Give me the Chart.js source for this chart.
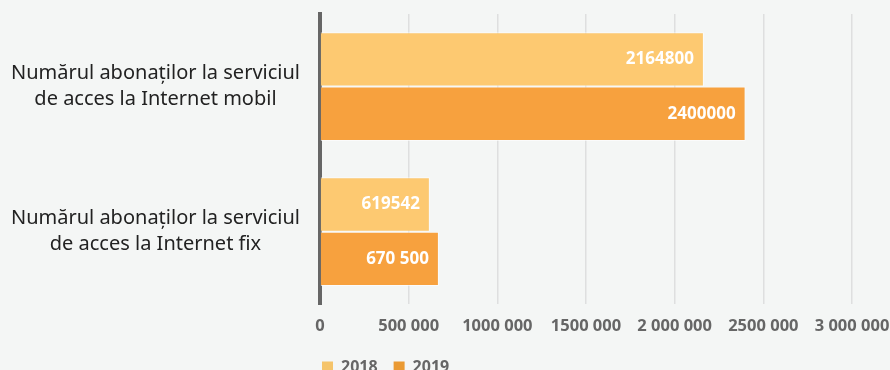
<!DOCTYPE html>
<html>
<head>
<meta charset="utf-8">
<script src="https://cdn.jsdelivr.net/npm/chart.js@4/dist/chart.umd.min.js"></script>
<style>
  html, body { margin: 0; padding: 0; background: #f4f6f5; overflow: hidden; }
  #wrap { width: 890px; height: 370px; overflow: hidden; }
</style>
</head>
<body>
<div id="wrap"><canvas id="chart" width="890" height="385"></canvas></div>
<script>
// categories (two-line labels)
const categories = [
    ['Numărul abonaților la serviciul', 'de acces la Internet mobil'],
    ['Numărul abonaților la serviciul', 'de acces la Internet fix']
];
const seriesNames = ['2018', '2019'];
const values2018 = [2164800, 619542];
const values2019 = [2400000, 670500];
// value labels as printed on the bars
const labels2018 = ['2164800', '619542'];
const labels2019 = ['2400000', '670 500'];
const xTickLabels = ['0', '500 000', '1000 000', '1500 000', '2 000 000', '2500 000', '3 000 000'];

const barColors = ['#fdc971', '#f7a13e'];
const legendColors = ['#f5c46a', '#ea9a33'];
const fontFamily = '"Noto Sans", "Open Sans", sans-serif';

// paint the page background on the canvas
const backgroundPlugin = {
    id: 'bg',
    beforeDraw(chart) {
        const c = chart.ctx;
        c.save();
        c.fillStyle = '#f4f6f5';
        c.fillRect(0, 0, chart.width, chart.height);
        c.restore();
    }
};

// white value labels inside the end of each bar
const valueLabelPlugin = {
    id: 'valueLabels',
    afterDatasetsDraw(chart) {
        const c = chart.ctx;
        const texts = [labels2018, labels2019];
        c.save();
        c.font = 'bold 17px ' + fontFamily;
        c.fillStyle = '#ffffff';
        c.textAlign = 'right';
        c.textBaseline = 'middle';
        chart.data.datasets.forEach((ds, di) => {
            chart.getDatasetMeta(di).data.forEach((bar, i) => {
                c.fillText(texts[di][i], bar.x - 10, bar.y);
            });
        });
        c.restore();
    }
};

// move the legend to sit right at the y axis line
const legendShiftPlugin = {
    id: 'legendShift',
    afterLayout(chart) {
        chart.legend.left -= 14;
        chart.legend.right -= 14;
    }
};

const ctx = document.getElementById('chart').getContext('2d');
new Chart(ctx, {
    type: 'bar',
    data: {
        labels: categories,
        datasets: [{
            label: seriesNames[0],
            data: values2018,
            backgroundColor: barColors[0],
            borderColor: 'rgba(255, 255, 255, 0.6)',
            borderWidth: 1,
            categoryPercentage: 0.75,
            barPercentage: 1
        }, {
            label: seriesNames[1],
            data: values2019,
            backgroundColor: barColors[1],
            borderColor: 'rgba(255, 255, 255, 0.6)',
            borderWidth: 1,
            categoryPercentage: 0.75,
            barPercentage: 1
        }]
    },
    options: {
        indexAxis: 'y',
        responsive: false,
        animation: false,
        layout: { padding: { top: 14, left: 0, right: 0, bottom: 0 } },
        scales: {
            x: {
                min: 0,
                max: 3000000,
                z: 1,
                grid: {
                    color: 'rgba(190, 190, 190, 0.4)',
                    lineWidth: 1.5,
                    drawTicks: false
                },
                border: { display: false },
                ticks: {
                    stepSize: 500000,
                    padding: 12,
                    color: '#666666',
                    font: { family: fontFamily, size: 16.5, weight: 'bold' },
                    maxRotation: 0,
                    callback: (v, i) => xTickLabels[i]
                },
                afterFit(scale) {
                    scale.height -= 5;
                    scale.paddingRight = 38;
                }
            },
            y: {
                grid: { display: false, drawTicks: false },
                border: { display: true, color: '#666666', width: 4 },
                ticks: {
                    crossAlign: 'center',
                    padding: 20,
                    color: '#222222',
                    font: { family: fontFamily, size: 20, lineHeight: 1.3 }
                },
                afterFit(scale) {
                    scale.width = 320;
                    scale.paddingTop = 0;
                    scale.paddingBottom = 0;
                }
            }
        },
        plugins: {
            legend: {
                position: 'bottom',
                align: 'start',
                fullSize: false,
                labels: {
                    boxWidth: 11,
                    boxHeight: 11,
                    padding: 16,
                    color: '#666666',
                    font: { family: fontFamily, size: 16, weight: 'bold' },
                    generateLabels: (chart) => chart.data.datasets.map((ds, i) => ({
                        text: ds.label,
                        fillStyle: legendColors[i],
                        strokeStyle: legendColors[i],
                        lineWidth: 0,
                        fontColor: '#666666',
                        datasetIndex: i
                    }))
                }
            },
            tooltip: { enabled: false }
        }
    },
    plugins: [backgroundPlugin, valueLabelPlugin, legendShiftPlugin]
});
</script>
</body>
</html>
